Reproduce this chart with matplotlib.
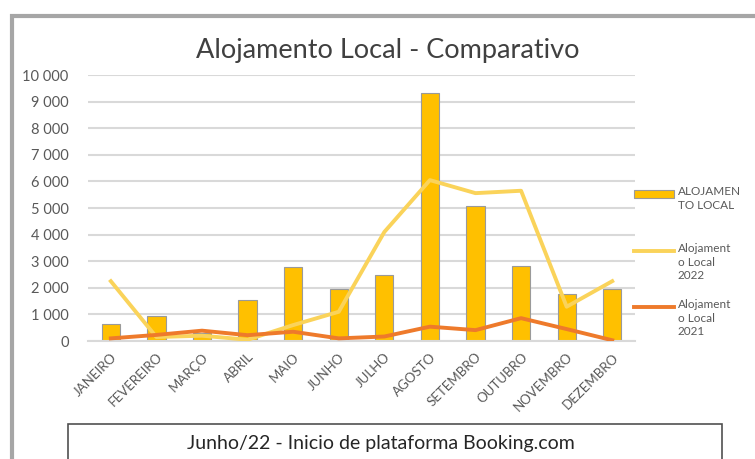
import matplotlib.pyplot as plt
from matplotlib.lines import Line2D
from matplotlib.patches import Rectangle
from matplotlib.ticker import FuncFormatter

plt.rcParams['font.family'] = ['Lato', 'DejaVu Sans']

meses = ['JANEIRO', 'FEVEREIRO', 'MARÇO', 'ABRIL', 'MAIO', 'JUNHO', 'JULHO',
         'AGOSTO', 'SETEMBRO', 'OUTUBRO', 'NOVEMBRO', 'DEZEMBRO']
alojamento = [650, 950, 300, 1540, 2800, 1950, 2480, 9310, 5070, 2820, 1770, 1950]
local_2022 = [2250, 150, 200, 50, 600, 1100, 4100, 6050, 5560, 5650, 1290, 2250]
local_2021 = [100, 230, 390, 220, 350, 100, 170, 540, 410, 860, 450, 30]

cor_barra = '#FFC000'
cor_2022 = '#FAD35A'
cor_2021 = '#EE7A2B'
cinza = '#595959'

fig = plt.figure(figsize=(7.55, 4.59), dpi=100)
ax = fig.add_axes([0.1166, 0.257, 0.7245, 0.5795])

x = range(len(meses))
ax.bar(x, alojamento, width=0.4, color=cor_barra, edgecolor='#9A9A9A', linewidth=0.8, zorder=2)
ax.plot(x, local_2022, color=cor_2022, lw=2.8, zorder=3)
ax.plot(x, local_2021, color=cor_2021, lw=2.8, zorder=4)

ax.set_xlim(-0.5, len(meses) - 0.5)
ax.set_ylim(0, 10000)
ax.set_yticks(range(0, 10001, 1000))
ax.yaxis.set_major_formatter(FuncFormatter(lambda v, p: f'{int(v):,}'.replace(',', ' ')))
ax.grid(axis='y', color='#D9D9D9', lw=1.5, zorder=0)
for s in ax.spines.values():
    s.set_visible(False)
ax.spines['bottom'].set_visible(True)
ax.spines['bottom'].set_color('#D9D9D9')
ax.spines['bottom'].set_linewidth(1.5)
ax.tick_params(length=0, colors=cinza, labelsize=10.5)
ax.tick_params(axis='y', pad=14)
ax.tick_params(axis='x', pad=7)
ax.set_xticks(list(x))
ax.set_xticklabels(meses, rotation=45, ha='right', rotation_mode='anchor', fontsize=9.5)

fig.text(0.513, 0.89, 'Alojamento Local - Comparativo', ha='center', va='center',
         fontsize=19.5, color='#404040')

# legenda
leg_items = [('bar', cor_barra, 'ALOJAMEN\nTO LOCAL', 194),
             ('line', cor_2022, 'Alojament\no Local\n2022', 251),
             ('line', cor_2021, 'Alojament\no Local\n2021', 307)]
for kind, cor, txt, ypx in leg_items:
    yf = 1 - ypx / 459
    if kind == 'bar':
        fig.add_artist(Rectangle((634 / 755, yf - 4 / 459), 40 / 755, 8 / 459,
                                 facecolor=cor, edgecolor='#9A9A9A', lw=0.8,
                                 transform=fig.transFigure))
    else:
        fig.add_artist(Line2D([634 / 755, 674 / 755], [yf, yf], color=cor, lw=2.8,
                              transform=fig.transFigure))
    fig.text(678 / 755, yf + 8 / 459, txt, ha='left', va='top', fontsize=8.5,
             color=cinza, linespacing=1.3)

# caixa de nota
fig.add_artist(Rectangle((68 / 755, -0.05), 654 / 755, 1 - 424 / 459 + 0.05,
                         facecolor='white', edgecolor='#505050', lw=1.2,
                         transform=fig.transFigure))
fig.text(381 / 755, 1 - 443 / 459, 'Junho/22 - Inicio de plataforma Booking.com',
         ha='center', va='center', fontsize=14, color='#262626')

# moldura
fig.add_artist(Rectangle((12 / 755, -0.05), 1.1, 1 - 16 / 459 + 0.05, facecolor='none',
                         edgecolor='#A6A6A6', lw=3, transform=fig.transFigure))

fig.savefig('out.png', dpi=100)
